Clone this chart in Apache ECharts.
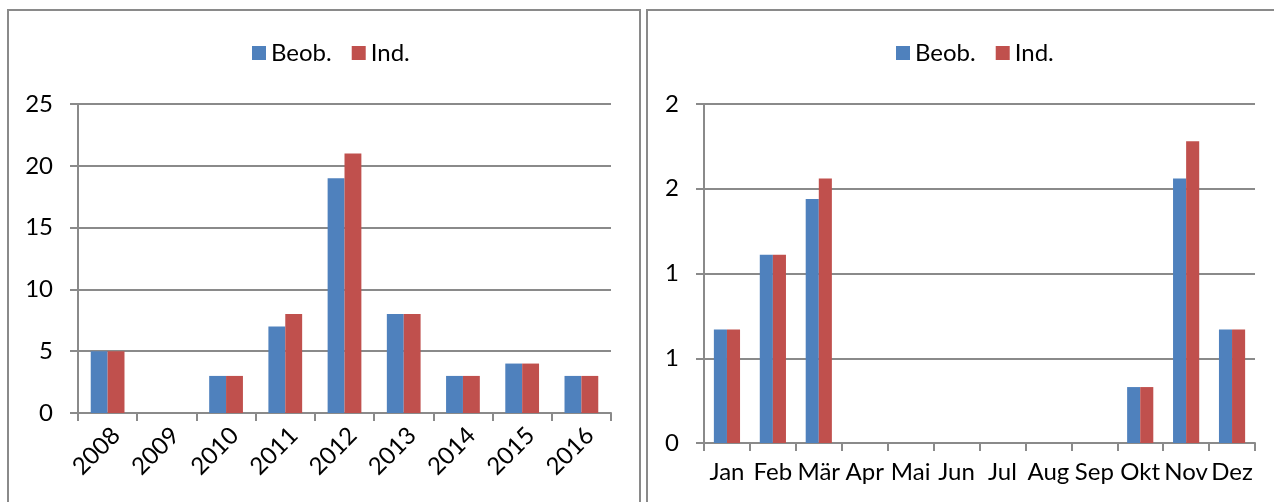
<!DOCTYPE html>
<html>
<head>
<meta charset="utf-8">
<script src="https://cdn.jsdelivr.net/npm/echarts@6/dist/echarts.min.js"></script>
<style>
html,body{margin:0;padding:0;background:#fff;}
#c{width:1274px;height:502px;}
</style>
</head>
<body>
<div id="c"></div>
<script>
// ---- data ----
var years = ['2008','2009','2010','2011','2012','2013','2014','2015','2016'];
var beobYear = [5, 0, 3, 7, 19, 8, 3, 4, 3];
var indYear  = [5, 0, 3, 8, 21, 8, 3, 4, 3];

var months = ['Jan','Feb','Mär','Apr','Mai','Jun','Jul','Aug','Sep','Okt','Nov','Dez'];
var beobMonth = [0.67, 1.11, 1.44, 0, 0, 0, 0, 0, 0, 0.33, 1.56, 0.67];
var indMonth  = [0.67, 1.11, 1.56, 0, 0, 0, 0, 0, 0, 0.33, 1.78, 0.67];

var seriesNames = ['Beob.', 'Ind.'];
var yearTicks = {min: 0, max: 25, interval: 5};
var monthTicks = {min: 0, max: 2, interval: 0.5};

// ---- styles ----
var FONT = 'Lato';
var FS = 24;
var GRAY = '#8a8a8a';
var BLUE = '#4F81BD';
var RED = '#C0504D';

var chart = echarts.init(document.getElementById('c'), null, {renderer: 'canvas'});

function xAxisCfg(gridIndex, data, rotate, margin, vAlign) {
  var lab = {interval: 0, rotate: rotate, margin: margin, color: '#000', fontFamily: FONT, fontSize: FS};
  if (vAlign) lab.verticalAlign = vAlign;
  return {
    type: 'category', gridIndex: gridIndex, data: data,
    axisLine: {show: true, lineStyle: {color: GRAY, width: 2}},
    axisTick: {show: true, inside: false, length: 8, alignWithLabel: false, interval: 0, lineStyle: {color: GRAY, width: 2}},
    axisLabel: lab,
    splitLine: {show: false}
  };
}
function yAxisCfg(gridIndex, t, fmt) {
  return {
    type: 'value', gridIndex: gridIndex, min: t.min, max: t.max, interval: t.interval,
    axisLine: {show: true, lineStyle: {color: GRAY, width: 2}},
    axisTick: {show: true, inside: false, length: 8, lineStyle: {color: GRAY, width: 2}},
    axisLabel: {margin: 25, color: '#000', fontFamily: FONT, fontSize: FS, formatter: fmt},
    splitLine: {show: true, lineStyle: {color: GRAY, width: 2}}
  };
}
function legendCfg(left) {
  return {
    data: seriesNames, left: left, top: 36, orient: 'horizontal',
    itemWidth: 14, itemHeight: 14, itemGap: 20, icon: 'rect',
    textStyle: {color: '#000', fontFamily: FONT, fontSize: FS},
    selectedMode: false
  };
}
function barCfg(name, xi, data, color) {
  return {
    type: 'bar', name: name, xAxisIndex: xi, yAxisIndex: xi, data: data,
    barGap: '0%', barCategoryGap: '43%',
    itemStyle: {color: color},
    emphasis: {disabled: true},
    animation: false
  };
}

chart.setOption({
  animation: false,
  textStyle: {fontFamily: FONT},
  graphic: [
    {type: 'rect', shape: {x: 8, y: 10, width: 632, height: 520}, style: {fill: 'none', stroke: GRAY, lineWidth: 2}, silent: true},
    {type: 'rect', shape: {x: 647, y: 10, width: 700, height: 520}, style: {fill: 'none', stroke: GRAY, lineWidth: 2}, silent: true}
  ],
  legend: [legendCfg(247), legendCfg(891)],
  grid: [
    {left: 78, top: 104, width: 533, height: 309, containLabel: false},
    {left: 704, top: 104, width: 551, height: 339, containLabel: false}
  ],
  xAxis: [xAxisCfg(0, years, 45, 10, 'top'), xAxisCfg(1, months, 0, 17)],
  yAxis: [
    yAxisCfg(0, yearTicks, function (v) { return String(v); }),
    yAxisCfg(1, monthTicks, function (v) { return String(Math.round(v)); })
  ],
  series: [
    barCfg(seriesNames[0], 0, beobYear, BLUE),
    barCfg(seriesNames[1], 0, indYear, RED),
    barCfg(seriesNames[0], 1, beobMonth, BLUE),
    barCfg(seriesNames[1], 1, indMonth, RED)
  ]
});
</script>
</body>
</html>
